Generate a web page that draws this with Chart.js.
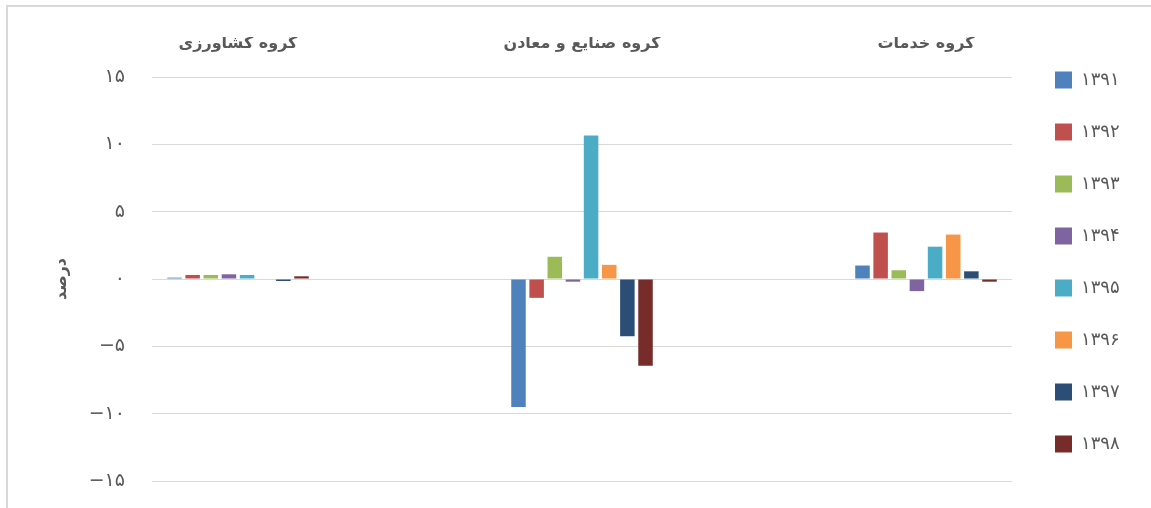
<!DOCTYPE html>
<html>
<head>
<meta charset="utf-8">
<script src="https://cdn.jsdelivr.net/npm/chart.js"></script>
<style>
  html, body { margin: 0; padding: 0; background: #fff; }
</style>
</head>
<body>
<canvas id="chart" width="1151" height="508"></canvas>
<script>
// categories (left to right as in the picture)
var categories = ['گروه کشاورزی', 'گروه صنایع و معادن', 'گروه خدمات'];

// one series per year, values in percent
var years = ['۱۳۹۱', '۱۳۹۲', '۱۳۹۳', '۱۳۹۴', '۱۳۹۵', '۱۳۹۶', '۱۳۹۷', '۱۳۹۸'];
var v1391 = [0.1, -9.5, 1.0];
var v1392 = [0.3, -1.4, 3.45];
var v1393 = [0.3, 1.65, 0.65];
var v1394 = [0.35, -0.2, -0.9];
var v1395 = [0.3, 10.65, 2.4];
var v1396 = [0, 1.05, 3.3];
var v1397 = [-0.15, -4.25, 0.57];
var v1398 = [0.2, -6.45, -0.2];
var series = [v1391, v1392, v1393, v1394, v1395, v1396, v1397, v1398];

var colors = ['#4F81BD', '#C0504D', '#9BBB59', '#8064A2', '#4BACC6', '#F79646', '#2C4D75', '#772C2A'];

// y axis ticks
var yTickValues = [-15, -10, -5, 0, 5, 10, 15];
var yTickLabels = ['−۱۵', '−۱۰', '−۵', '۰', '۵', '۱۰', '۱۵'];
var yTitle = 'درصد';

var fontFamily = '"DejaVu Sans", sans-serif';
var textColor = '#595959';
var gridColor = '#D9D9D9';

var datasets = years.map(function(year, i) {
    return {
        label: year,
        data: series[i].map(function(v, j) {
            return {x: j, y: v};
        }),
        backgroundColor: colors[i],
        borderWidth: 0,
        categoryPercentage: 0.422,
        barPercentage: 0.8
    };
});

// frame line round the chart, like the source picture
var framePlugin = {
    id: 'frame',
    beforeDraw: function(chart) {
        var ctx = chart.ctx;
        ctx.save();
        ctx.fillStyle = '#fff';
        ctx.fillRect(0, 0, chart.width, chart.height);
        ctx.strokeStyle = gridColor;
        ctx.lineWidth = 2;
        ctx.strokeRect(7, 6, chart.width + 20, chart.height + 20);
        ctx.restore();
    }
};

new Chart(document.getElementById('chart'), {
    type: 'bar',
    data: {datasets: datasets},
    plugins: [framePlugin],
    options: {
        responsive: false,
        animation: false,
        layout: {
            padding: {top: 37, right: 30, bottom: 0, left: 0}
        },
        scales: {
            x: {
                type: 'linear',
                position: 'top',
                offset: false,
                min: -0.25,
                max: 2.25,
                grid: {display: false, drawTicks: false, offset: false},
                border: {display: false},
                afterBuildTicks: function(scale) {
                    scale.ticks = categories.map(function(c, i) {
                        return {value: i};
                    });
                },
                afterFit: function(scale) {
                    scale.height = 40;
                },
                ticks: {
                    autoSkip: false,
                    maxRotation: 0,
                    padding: 24,
                    color: textColor,
                    font: {family: fontFamily, size: 16, weight: 'bold'},
                    callback: function(value) {
                        return categories[value];
                    }
                }
            },
            xb: {
                type: 'linear',
                position: 'bottom',
                grid: {display: false, drawTicks: false},
                border: {display: false},
                ticks: {display: false},
                afterFit: function(scale) {
                    scale.height = 27;
                }
            },
            y: {
                min: -15,
                max: 15,
                grid: {color: gridColor, drawTicks: true, tickLength: 27, tickColor: 'rgba(0,0,0,0)'},
                border: {display: false},
                afterBuildTicks: function(scale) {
                    scale.ticks = yTickValues.map(function(v) {
                        return {value: v};
                    });
                },
                afterFit: function(scale) {
                    scale.width = 152;
                },
                ticks: {
                    padding: 0,
                    color: textColor,
                    font: {family: fontFamily, size: 19},
                    callback: function(value) {
                        return yTickLabels[yTickValues.indexOf(value)];
                    }
                },
                title: {
                    display: true,
                    text: yTitle,
                    color: textColor,
                    padding: {top: 52, bottom: 0},
                    font: {family: fontFamily, size: 16, weight: 'bold'}
                }
            },
            yr: {
                type: 'linear',
                position: 'right',
                grid: {display: false, drawTicks: false},
                border: {display: false},
                ticks: {display: false},
                afterFit: function(scale) {
                    scale.width = 9;
                }
            }
        },
        plugins: {
            legend: {
                position: 'right',
                align: 'start',
                maxWidth: 100,
                labels: {
                    boxWidth: 17,
                    boxHeight: 17,
                    padding: 34,
                    color: textColor,
                    font: {family: fontFamily, size: 18}
                }
            },
            tooltip: {enabled: false}
        }
    }
});
</script>
</body>
</html>
